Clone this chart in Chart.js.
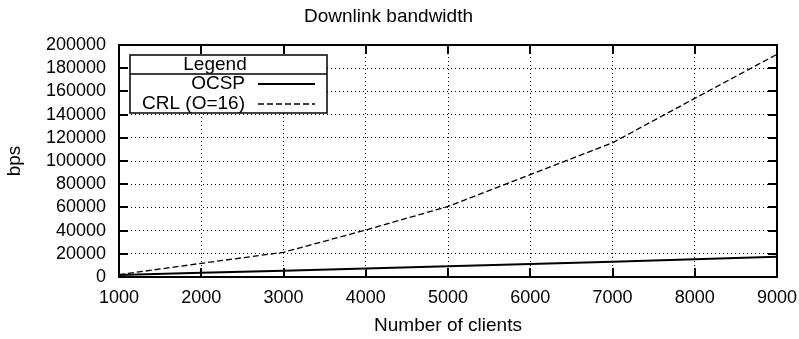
<!DOCTYPE html>
<html>
<head>
<meta charset="utf-8">
<title>Downlink bandwidth</title>
<script src="https://cdn.jsdelivr.net/npm/chart.js@4/dist/chart.umd.min.js"></script>
<style>
  html, body { margin: 0; padding: 0; background: #fff; }
  #wrap { width: 799px; height: 339px; }
</style>
</head>
<body>
<div id="wrap"><canvas id="bwChart" width="799" height="339"></canvas></div>
<script>
// number of clients on the x axis
var clients = [1000, 2000, 3000, 4000, 5000, 6000, 7000, 8000, 9000];
// downlink bandwidth (bps)
var ocspBps = [1700, 3600, 5400, 7400, 9300, 11200, 13200, 15300, 17500];
var crlBps = [2000, 11800, 21300, 40500, 60800, 88300, 115700, 154000, 192000];
var seriesNames = ["OCSP", "CRL (O=16)"];

var xTicks = [1000, 2000, 3000, 4000, 5000, 6000, 7000, 8000, 9000];
var yTicks = [0, 20000, 40000, 60000, 80000, 100000, 120000, 140000, 160000, 180000, 200000];

var FONT = "'Liberation Sans', Arial, Helvetica, sans-serif";

function points(xs, ys) {
    return xs.map(function (x, i) { return { x: x, y: ys[i] }; });
}

// plain integers, no thousands separator
function plainLabel(value) {
    return String(value);
}

// border box, inward tick marks (gnuplot style) and the boxed legend
var framePlugin = {
    id: "frame",
    afterDraw: function (chart) {
        var ctx = chart.ctx;
        var a = chart.chartArea;
        var xs = chart.scales.x, ys = chart.scales.y;
        var tick = 9;

        ctx.save();
        ctx.strokeStyle = "#000";
        ctx.setLineDash([]);
        ctx.lineWidth = 2;
        ctx.beginPath();
        xTicks.forEach(function (v) {
            var px = Math.round(xs.getPixelForValue(v));
            ctx.moveTo(px, a.bottom); ctx.lineTo(px, a.bottom - tick);
            ctx.moveTo(px, a.top); ctx.lineTo(px, a.top + tick);
        });
        yTicks.forEach(function (v) {
            var py = Math.round(ys.getPixelForValue(v));
            ctx.moveTo(a.left, py); ctx.lineTo(a.left + tick, py);
            ctx.moveTo(a.right, py); ctx.lineTo(a.right - tick, py);
        });
        ctx.stroke();
        ctx.strokeRect(a.left, a.top, a.right - a.left, a.bottom - a.top);

        // legend
        var lx = a.left + 11, ly = a.top + 10, lw = 197, lh = 58;
        ctx.fillStyle = "#fff";
        ctx.fillRect(lx, ly, lw, lh);
        ctx.lineWidth = 1.5;
        ctx.strokeRect(lx, ly, lw, lh);
        ctx.beginPath();
        ctx.moveTo(lx, ly + 19);
        ctx.lineTo(lx + lw, ly + 19);
        ctx.stroke();

        ctx.fillStyle = "#000";
        ctx.font = "19px " + FONT;
        ctx.textBaseline = "middle";
        ctx.textAlign = "center";
        ctx.fillText("Legend", lx + 85, ly + 10);

        ctx.textAlign = "right";
        var styles = chart.data.datasets;
        [ly + 29, ly + 49].forEach(function (ry, i) {
            ctx.fillText(seriesNames[i], lx + 115, ry);
            ctx.save();
            ctx.lineWidth = styles[i].borderWidth;
            ctx.setLineDash(styles[i].borderDash || []);
            ctx.beginPath();
            ctx.moveTo(lx + 128, ry);
            ctx.lineTo(lx + 185, ry);
            ctx.stroke();
            ctx.restore();
        });
        ctx.restore();
    }
};

var ctx = document.getElementById("bwChart").getContext("2d");
Chart.defaults.font.family = FONT;
Chart.defaults.font.size = 18;
Chart.defaults.color = "#000";

var bwChart = new Chart(ctx, {
    type: "line",
    data: {
        datasets: [{
            label: seriesNames[0],
            data: points(clients, ocspBps),
            borderColor: "#000",
            borderWidth: 2,
            pointRadius: 0,
            fill: false,
            tension: 0
        }, {
            label: seriesNames[1],
            data: points(clients, crlBps),
            borderColor: "#000",
            borderWidth: 1.3,
            borderDash: [6, 3],
            pointRadius: 0,
            fill: false,
            tension: 0
        }]
    },
    options: {
        responsive: false,
        animation: false,
        layout: { padding: { left: 0, right: 22, top: 0, bottom: 0 } },
        plugins: {
            legend: { display: false },
            tooltip: { enabled: false },
            title: {
                display: true,
                text: "Downlink bandwidth",
                color: "#000",
                font: { size: 19, weight: "normal" },
                padding: { top: 5, bottom: 17.2 }
            }
        },
        scales: {
            x: {
                type: "linear",
                min: 1000,
                max: 9000,
                afterBuildTicks: function (scale) {
                    scale.ticks = xTicks.map(function (v) { return { value: v }; });
                },
                afterFit: function (scale) {
                    scale.height = 62;
                    scale.paddingLeft = 0;
                    scale.paddingRight = 0;
                },
                ticks: { padding: 10, maxRotation: 0, autoSkip: false, color: "#000", callback: plainLabel },
                grid: { color: "#000", lineWidth: 1, drawTicks: false },
                border: { display: false, dash: [1, 3] },
                title: {
                    display: true,
                    text: "Number of clients",
                    color: "#000",
                    font: { size: 19 },
                    padding: { top: 0, bottom: 2 }
                }
            },
            y: {
                min: 0,
                max: 200000,
                afterBuildTicks: function (scale) {
                    scale.ticks = yTicks.map(function (v) { return { value: v }; });
                },
                afterFit: function (scale) {
                    scale.width = 119;
                    scale.paddingTop = 0;
                    scale.paddingBottom = 0;
                },
                ticks: { padding: 13, autoSkip: false, color: "#000", callback: plainLabel },
                grid: { color: "#000", lineWidth: 1, drawTicks: false },
                border: { display: false, dash: [1, 3] },
                title: {
                    display: true,
                    text: "bps",
                    color: "#000",
                    font: { size: 19 },
                    padding: { top: 3, bottom: 0 }
                }
            }
        }
    },
    plugins: [framePlugin]
});
</script>
</body>
</html>
